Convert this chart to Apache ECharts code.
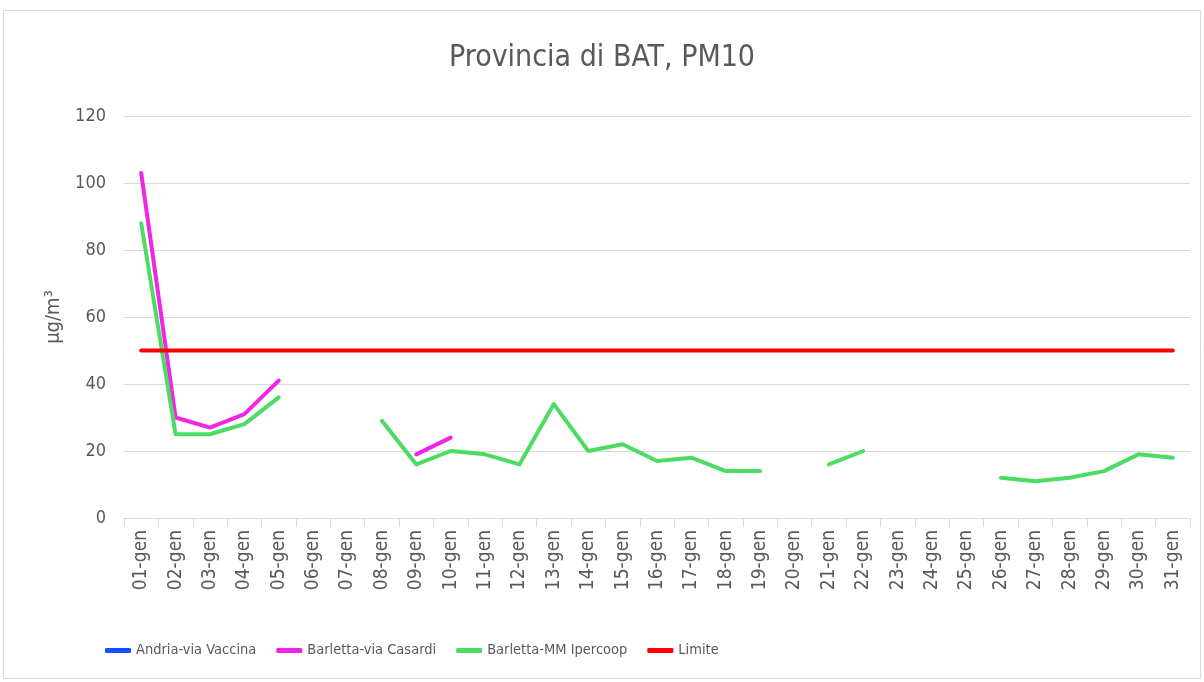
<!DOCTYPE html>
<html>
<head>
<meta charset="utf-8">
<script src="https://cdn.jsdelivr.net/npm/echarts@6/dist/echarts.min.js"></script>
<style>
  html, body { margin: 0; padding: 0; background: #fff; }
  #chart { width: 1204px; height: 682px; }
</style>
</head>
<body>
<div id="chart"></div>
<script>
// Provincia di BAT, PM10 – medie giornaliere gennaio
const days = ['01-gen','02-gen','03-gen','04-gen','05-gen','06-gen','07-gen','08-gen','09-gen','10-gen',
  '11-gen','12-gen','13-gen','14-gen','15-gen','16-gen','17-gen','18-gen','19-gen','20-gen',
  '21-gen','22-gen','23-gen','24-gen','25-gen','26-gen','27-gen','28-gen','29-gen','30-gen','31-gen']

// Andria: nessun dato nel mese
const andria = days.map(() => null)
const barlettaCasardi = [103, 30, 27, 31, 41, null, null, null, 19, 24,
  null, null, null, null, null, null, null, null, null, null,
  null, null, null, null, null, null, null, null, null, null, null]
const barlettaIpercoop = [88, 25, 25, 28, 36, null, null, 29, 16, 20,
  19, 16, 34, 20, 22, 17, 18, 14, 14, null,
  16, 20, null, null, null, 12, 11, 12, 14, 19, 18]
const limite = days.map(() => 50)

const yTicks = [0, 20, 40, 60, 80, 100, 120]

const FONT = '"Liberation Sans Narrow", "DejaVu Sans Condensed", "Liberation Sans", sans-serif'
const TEXT = '#595959'
const GRIDLINE = '#d9d9d9'

const chart = echarts.init(document.getElementById('chart'), null, { renderer: 'canvas' })

function lineSeries(name, data, color) {
  return {
    name, type: 'line', data,
    showSymbol: false, symbol: 'none',
    connectNulls: false,
    lineStyle: { color, width: 4, cap: 'round', join: 'round' },
    itemStyle: { color },
    emphasis: { disabled: true },
  }
}

chart.setOption({
  animation: false,
  backgroundColor: '#fff',
  textStyle: { fontFamily: FONT },
  graphic: [{
    type: 'rect', silent: true,
    shape: { x: 3.5, y: 10.5, width: 1197, height: 668 },
    style: { fill: 'none', stroke: GRIDLINE, lineWidth: 1 },
  }],
  title: {
    text: 'Provincia di BAT, PM10',
    left: 'center', top: 38,
    textStyle: { fontFamily: FONT, fontSize: 30, fontWeight: 'normal', color: TEXT },
  },
  legend: {
    left: 100, top: 638,
    itemWidth: 26, itemHeight: 5, itemGap: 20,
    icon: 'roundRect',
    textStyle: { fontFamily: FONT, fontSize: 14.5, color: TEXT },
    data: ['Andria-via Vaccina', 'Barletta-via Casardi', 'Barletta-MM Ipercoop', 'Limite'],
  },
  grid: { left: 124, right: 14, top: 116, bottom: 164 },
  xAxis: {
    type: 'category', data: days, boundaryGap: true,
    axisLine: { lineStyle: { color: GRIDLINE, width: 1 } },
    axisTick: { show: true, length: 9, lineStyle: { color: GRIDLINE } },
    axisLabel: { rotate: 90, interval: 0, color: TEXT, fontFamily: FONT, fontSize: 19, margin: 12 },
  },
  yAxis: {
    type: 'value', min: 0, max: 120, interval: 20,
    name: 'μg/m³', nameLocation: 'middle', nameGap: 56, nameRotate: 90,
    nameTextStyle: { color: TEXT, fontFamily: FONT, fontSize: 20 },
    axisLine: { show: false }, axisTick: { show: false },
    axisLabel: {
      color: TEXT, fontFamily: FONT, fontSize: 18, margin: 18,
      formatter: v => yTicks.includes(v) ? String(v) : '',
    },
    splitLine: { lineStyle: { color: GRIDLINE, width: 1 } },
  },
  series: [
    lineSeries('Andria-via Vaccina', andria, '#1450ff'),
    lineSeries('Barletta-via Casardi', barlettaCasardi, '#f025e6'),
    lineSeries('Barletta-MM Ipercoop', barlettaIpercoop, '#4cdc64'),
    lineSeries('Limite', limite, '#ff0000'),
  ],
})

window.addEventListener('resize', () => chart.resize())
</script>
</body>
</html>
